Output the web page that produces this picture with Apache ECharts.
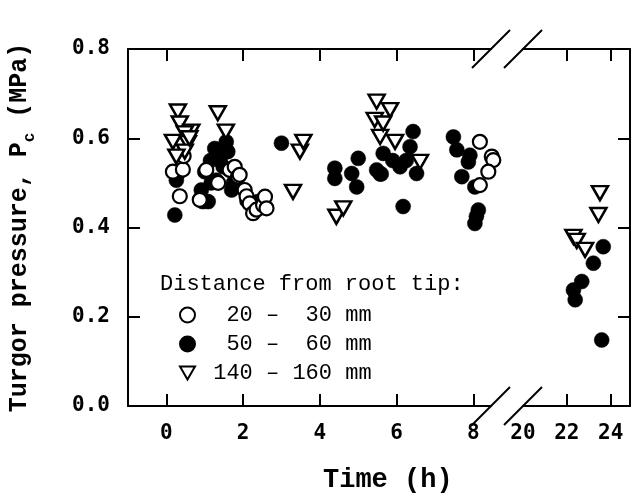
<!DOCTYPE html>
<html lang="en">
<head>
<meta charset="UTF-8">
<title>Turgor pressure</title>
<script src="https://cdn.jsdelivr.net/npm/echarts@6/dist/echarts.min.js"></script>
<style>
  html,body{margin:0;padding:0;background:#fff;}
  #chart{width:632px;height:498px;}
</style>
</head>
<body>
<div id="chart"></div>
<script>
    // tick values
    let yTicks=[0,0.2,0.4,0.6,0.8];
    let earlyTicks=[0,2,4,6,8];
    let lateTicks=[22,24];
    let lateLabels=[20,22,24];
    let legendNames=[' 20 –  30 mm',' 50 –  60 mm','140 – 160 mm'];

    // [time (h), turgor (MPa)]  0-8 h
    let open20=[
        [0.17,0.525],[0.43,0.53],[0.35,0.47],[0.45,0.56],
        [0.87,0.462],[1.04,0.529],[1.35,0.50],[1.65,0.529],[1.78,0.536],[1.87,0.514],[1.91,0.518],[2.04,0.484],
        [2.09,0.47],[2.17,0.454],[2.26,0.432],[2.35,0.44],[2.52,0.45],[2.57,0.469],[2.61,0.443],
        [8.17,0.592],[8.48,0.559],[8.52,0.551],[8.39,0.525],[8.17,0.495]
    ];
    let filled50=[
        [0.22,0.428],[0.26,0.506],[0.30,0.52],
        [0.91,0.484],[0.95,0.458],[1.0,0.525],[1.09,0.458],[1.15,0.55],[1.17,0.50],[1.26,0.577],[1.3,0.506],
        [1.4,0.55],[1.48,0.536],[1.56,0.592],[1.6,0.57],[1.7,0.484],[1.75,0.50],[2.1,0.46],[2.3,0.44],[2.39,0.458],
        [3.0,0.589],
        [4.39,0.533],[4.39,0.51],[4.83,0.521],[4.96,0.491],[5.0,0.555],[5.48,0.529],[5.57,0.52],[5.6,0.52],
        [5.65,0.566],[5.9,0.55],[6.09,0.536],[6.17,0.447],[6.25,0.55],[6.35,0.581],[6.43,0.615],[6.52,0.521],
        [7.48,0.603],[7.57,0.574],[7.7,0.514],[7.87,0.547],[7.91,0.562],[8.04,0.491],[8.13,0.439],[8.08,0.425],[8.04,0.409]
    ];
    let tri140=[
        [0.30,0.66],[0.35,0.633],[0.65,0.615],[0.48,0.611],[0.17,0.592],[0.56,0.589],[0.48,0.57],[0.26,0.559],[0.6,0.60],
        [1.34,0.656],[1.55,0.615],
        [3.3,0.48],[3.48,0.57],[3.57,0.592],
        [4.43,0.424],[4.61,0.443],
        [5.43,0.641],[5.48,0.682],[5.57,0.603],[5.65,0.633],[5.83,0.663],[5.96,0.592],[6.61,0.547]
    ];
    // 20-24 h
    let filled50Late=[[22.30,0.26],[22.38,0.238],[22.68,0.279],[23.21,0.32],[23.66,0.357],[23.59,0.148]];
    let tri140Late=[[22.30,0.379],[22.45,0.37],[22.83,0.35],[23.44,0.428],[23.51,0.477]];

    // frame layout
    let W=632,H=498;
    let frameL=128,frameR=630,frameT=49,frameB=406;
    let breakL=491,breakR=523;

    let black='#000';
    let tickFont={color:black,fontFamily:'DejaVu Sans Mono',fontWeight:'bold',fontSize:21};
    let downTriangle='path://M0,0L16,0L8,14Z';

    function xAxis(gridIndex,min,max,position,ticks,labels){
        return {
            type:'value',gridIndex,min,max,position,
            axisLine:{show:true,onZero:false,lineStyle:{color:black,width:2}},
            axisTick:{show:true,inside:true,length:12,customValues:ticks,lineStyle:{color:black,width:2}},
            axisLabel:Object.assign({show:!!labels,customValues:labels||ticks,margin:17},tickFont),
            splitLine:{show:false},
        };
    }
    function yAxis(gridIndex,position,showLabel){
        return {
            type:'value',gridIndex,position,min:0,max:0.8,interval:0.2,
            axisLine:{show:true,onZero:false,lineStyle:{color:black,width:2}},
            axisTick:{show:true,inside:true,length:12,lineStyle:{color:black,width:2}},
            axisLabel:Object.assign({show:showLabel,margin:18,formatter:v=>v.toFixed(1)},tickFont),
            splitLine:{show:false},
        };
    }

    let openStyle={color:'#fff',borderColor:black,borderWidth:2.2,opacity:1};
    let filledStyle={color:black,borderColor:black,borderWidth:0.5,opacity:1};
    let triStyle={color:'#fff',borderColor:black,borderWidth:2.5,opacity:1};

    function scatter(name,data,xi,yi,symbol,size,style){
        return {
            name,type:'scatter',xAxisIndex:xi,yAxisIndex:yi,data,
            symbol,symbolSize:size,clip:false,
            itemStyle:style,emphasis:{disabled:true},
        };
    }

    // break marks: two slashes on top and bottom frame lines
    function slash(cx,cy){
        return {type:'line',shape:{x1:cx-19,y1:cy+19,x2:cx+19,y2:cy-19},
            style:{stroke:black,lineWidth:2},z:10};
    }

    let chart=echarts.init(document.getElementById('chart'),null,{renderer:'canvas'});
    let option={
        backgroundColor:'#fff',
        animation:false,
        grid:[
            {left:frameL,right:W-breakL,top:frameT,bottom:H-frameB,outerBoundsMode:'none'},
            {left:breakR,right:W-frameR,top:frameT,bottom:H-frameB,outerBoundsMode:'none'},
        ],
        xAxis:[
            xAxis(0,-1,8.46,'bottom',earlyTicks,earlyTicks),
            xAxis(0,-1,8.46,'top',earlyTicks,null),
            xAxis(1,20,24.88,'bottom',lateTicks,lateLabels),
            xAxis(1,20,24.88,'top',lateTicks,null),
        ],
        yAxis:[
            Object.assign(yAxis(0,'left',true),{
                name:'{n|Turgor pressure, P}{s|c}{n| (MPa)}',
                nameLocation:'middle',nameRotate:90,nameGap:90,
                nameTextStyle:{rich:{
                    n:{fontFamily:'Liberation Mono',fontWeight:'bold',fontSize:25,color:black,lineHeight:36},
                    s:{fontFamily:'Liberation Mono',fontWeight:'bold',fontSize:16,color:black,lineHeight:16,verticalAlign:'bottom'},
                }},
            }),
            yAxis(1,'right',false),
        ],
        title:[
            {text:'Time (h)',left:318,top:462,
                textStyle:{fontFamily:'Liberation Mono',fontWeight:'bold',fontSize:27,color:black}},
            {text:'Distance from root tip:',left:155,top:268,
                textStyle:{fontFamily:'Liberation Mono',fontWeight:'normal',fontSize:22,color:black}},
        ],
        legend:{
            orient:'vertical',left:174,top:299,itemWidth:15,itemHeight:15,itemGap:7,
            selectedMode:false,data:legendNames,
            formatter:n=>' '+n,
            textStyle:{fontFamily:'Liberation Mono',fontSize:22,color:black,lineHeight:22},
        },
        graphic:[
            slash(breakL,frameT),slash(breakR,frameT),
            slash(breakL,frameB),slash(breakR,frameB),
        ],
        series:[
            scatter(legendNames[1],filled50,0,0,'circle',15,filledStyle),
            scatter(legendNames[0],open20,0,0,'circle',14,openStyle),
            scatter(legendNames[2],tri140,0,0,downTriangle,[16,14],triStyle),
            scatter(legendNames[1],filled50Late,2,1,'circle',15,filledStyle),
            scatter(legendNames[2],tri140Late,2,1,downTriangle,[16,14],triStyle),
        ],
    };
    chart.setOption(option);
</script>
</body>
</html>
